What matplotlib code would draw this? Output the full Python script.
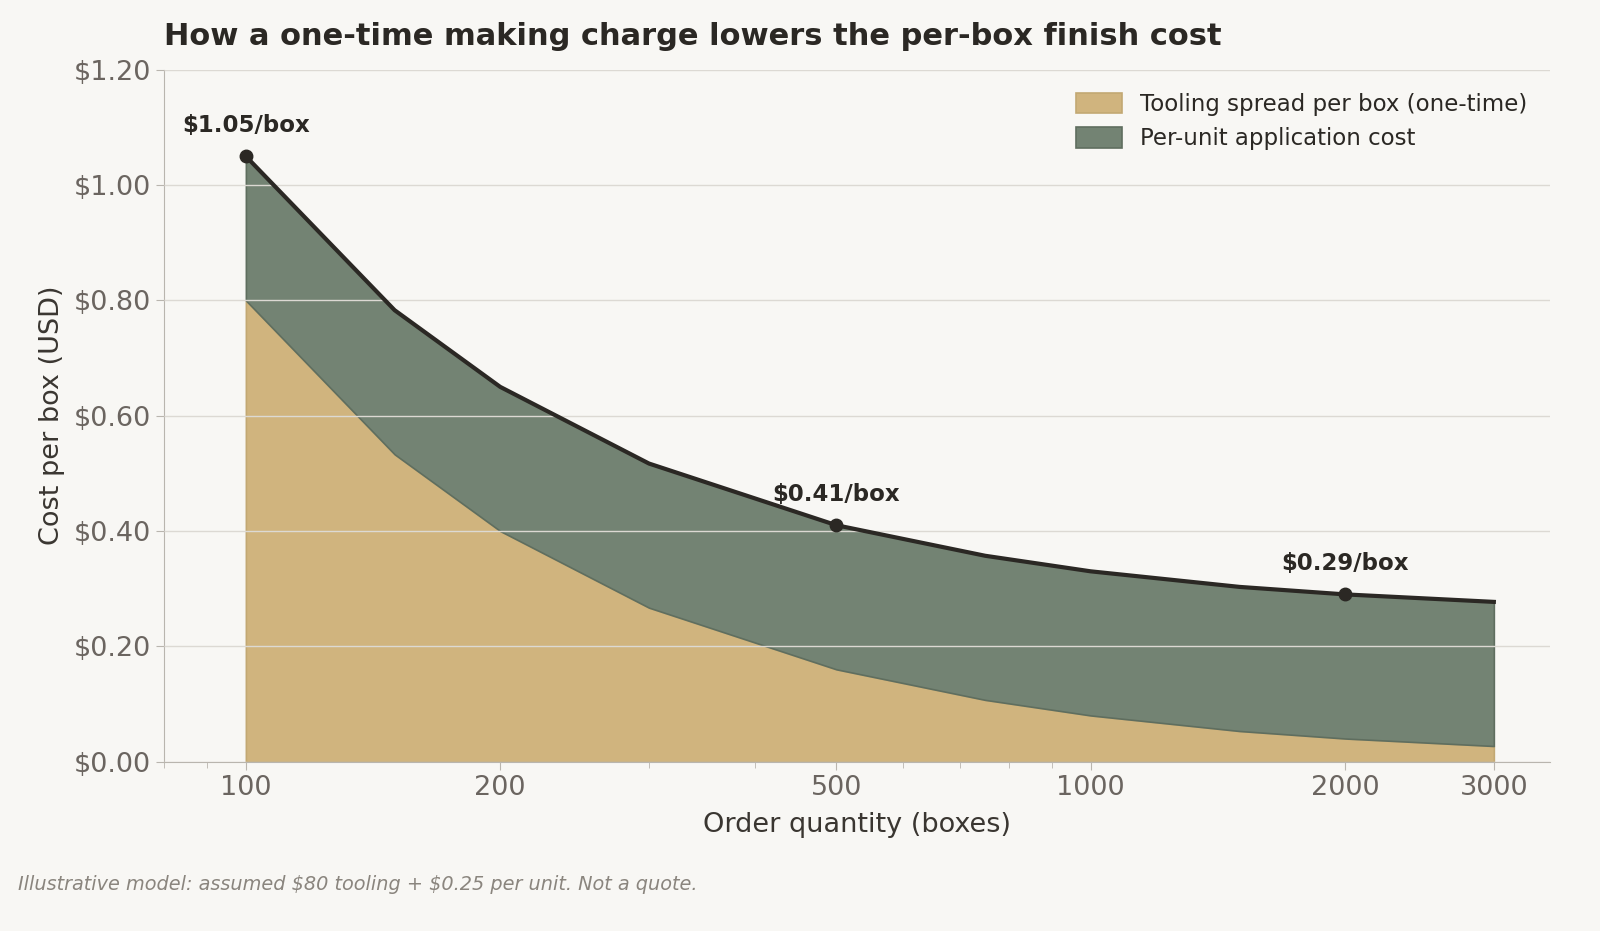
import matplotlib
matplotlib.use("Agg")
import matplotlib.pyplot as plt
from matplotlib.ticker import FixedLocator, FuncFormatter, LogLocator, NullFormatter

# Data
qty = [100, 150, 200, 300, 500, 750, 1000, 1500, 2000, 3000]
tooling = [0.80, 0.533, 0.40, 0.267, 0.16, 0.107, 0.08, 0.053, 0.04, 0.027]
per_unit = [0.25, 0.25, 0.25, 0.25, 0.25, 0.25, 0.25, 0.25, 0.25, 0.25]
total = [t + u for t, u in zip(tooling, per_unit)]

callout_qty = [100, 500, 2000]
callout_labels = ["$1.05/box", "$0.41/box", "$0.29/box"]

bg = "#f8f7f4"
tool_col = "#d0b47e"
unit_col = "#738373"
line_col = "#2b2824"

fig, ax = plt.subplots(figsize=(16, 9.31), dpi=100)
fig.patch.set_facecolor(bg)
ax.set_facecolor(bg)
fig.subplots_adjust(left=0.1025, right=0.969, top=0.925, bottom=0.182)

ax.fill_between(qty, 0, tooling, color=tool_col, edgecolor="#c2a873", lw=1.2,
                label="Tooling spread per box (one-time)", zorder=2)
ax.fill_between(qty, tooling, total, color=unit_col, edgecolor="#5f6e5f", lw=1.2,
                label="Per-unit application cost", zorder=2)
ax.plot(qty, total, color=line_col, lw=3, zorder=4)

for q, lab in zip(callout_qty, callout_labels):
    y = total[qty.index(q)]
    ax.plot(q, y, "o", color=line_col, ms=9, zorder=5)
    ax.annotate(lab.replace("$", r"\$"), (q, y), xytext=(0, 14), textcoords="offset points",
                ha="center", va="bottom", fontsize=16.5, fontweight="bold", color=line_col)

ax.set_xscale("log")
ax.set_xlim(80, 3500)
ax.set_ylim(0, 1.2)
ax.xaxis.set_major_locator(FixedLocator([100, 200, 500, 1000, 2000, 3000]))
ax.xaxis.set_major_formatter(FuncFormatter(lambda v, p: f"{int(v)}"))
ax.xaxis.set_minor_locator(LogLocator(base=10, subs=range(2, 10)))
ax.xaxis.set_minor_formatter(NullFormatter())
ax.set_yticks([0, 0.2, 0.4, 0.6, 0.8, 1.0, 1.2])
ax.yaxis.set_major_formatter(FuncFormatter(lambda v, p: f"${v:.2f}"))

ax.grid(axis="y", color="#dcd9d3", lw=1, zorder=3)
ax.set_axisbelow(False)
for s in ["top", "right"]:
    ax.spines[s].set_visible(False)
for s in ["left", "bottom"]:
    ax.spines[s].set_color("#b9b5ae")
ax.tick_params(axis="both", which="major", labelsize=19.5, colors="#b9b5ae", labelcolor="#6b6560", length=6)
ax.tick_params(axis="x", which="minor", colors="#b9b5ae", length=4)

ax.set_xlabel("Order quantity (boxes)", fontsize=19.5, color="#3a3631", labelpad=8)
ax.set_ylabel("Cost per box (USD)", fontsize=19.5, color="#3a3631", labelpad=6)
ax.set_title("How a one-time making charge lowers the per-box finish cost",
             loc="left", fontsize=22, fontweight="bold", color="#2b2824", pad=18)

leg = ax.legend(loc="upper right", frameon=False, fontsize=16.5, handlelength=2.0,
                handleheight=1.0, borderaxespad=0.6)
for t in leg.get_texts():
    t.set_color("#2b2824")

fig.text(0.011, 0.044, r"Illustrative model: assumed \$80 tooling + \$0.25 per unit. Not a quote.",
         fontsize=13.9, style="italic", color="#8a857e")

fig.savefig("out.png", dpi=100, facecolor=bg)
